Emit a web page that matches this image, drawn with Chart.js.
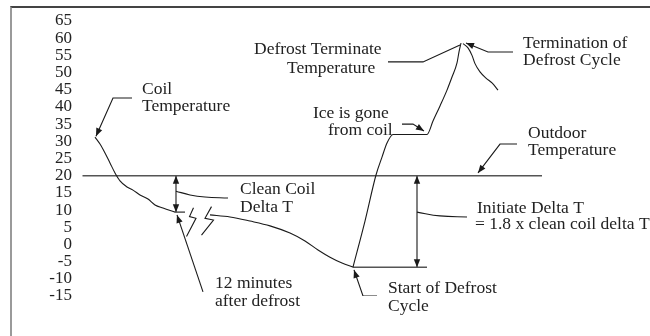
<!DOCTYPE html>
<html>
<head>
<meta charset="utf-8">
<script src="https://cdn.jsdelivr.net/npm/chart.js@4/dist/chart.umd.min.js"></script>
<style>
  body { margin: 0; background: #fff; }
  #wrap { position: relative; width: 650px; height: 336px; }
  #frame { position: absolute; left: 10px; top: 6px; right: 0; bottom: 0;
           border-top: 2px solid #444; border-left: 2px solid #9a9a9a; }
  canvas { position: absolute; left: 0; top: 0; }
</style>
</head>
<body>
<div id="wrap">
  <div id="frame"></div>
  <canvas id="defrostChart" width="650" height="336"></canvas>
</div>
<script>
// Temperatures in °F, time on a hidden axis (arbitrary units)
const yTicks = [65, 60, 55, 50, 45, 40, 35, 30, 25, 20, 15, 10, 5, 0, -5, -10, -15];

const outdoorTemp = 20;
const cleanCoilTemp = 9.4;
const startDefrostTemp = -6.6;

// coil temperature right after a defrost
const coilAfterX = [3, 4, 5, 6, 7, 8, 9.4, 10.6, 12, 13.6, 15, 16.6, 19];
const coilAfterY = [31.2, 29.2, 26.6, 23.7, 20.8, 18.5, 16.7, 15.8, 14.4, 13.2, 11.5, 10.6, 9.4];

// frost building up until the defrost starts
const coilFrostX = [26, 30, 34, 38, 42, 45, 47.6, 50, 52.4, 54.6];
const coilFrostY = [8.6, 8.0, 6.8, 5.4, 3.3, 1.0, -1.6, -3.7, -5.4, -6.6];

// defrost: rise, 32°F plateau while ice melts, up to terminate temp
const defrostX = [54.6, 57, 59.2, 60.4, 61.4, 62.6, 69.4, 70.6, 72, 73.4, 74.4, 75.4, 75.8, 76.2];
const defrostY = [-6.6, 6.8, 20.2, 25.4, 29.5, 32, 32, 35.9, 40.3, 44.9, 48.7, 52.8, 56, 58.6];

// after termination
const recoveryX = [76.6, 77.6, 78.4, 79, 80, 81.2, 82.4, 83.6];
const recoveryY = [58.4, 57.2, 55, 52.6, 50.2, 48.4, 47, 44.9];

// time-break marks
const break1X = [22.7, 21.9, 23.2, 21.3];
const break1Y = [10.7, 8.1, 7.6, 2.3];
const break2X = [26.3, 25, 26.7, 24.3];
const break2Y = [11.0, 7.6, 7.1, 2.7];

const outdoorLineX = [0.5, 92.4];
const startLineX = [54.6, 69.4];
const cleanLineX = [19, 21];
const cleanDeltaX = 19.2;
const initiateDeltaX = 67.4;

// leader lines for the notes
const leaders = [
  { x: [10.4, 6.6, 3.2], y: [42.6, 42.6, 31.5], arrow: true },
  { x: [19.2, 22, 25, 29.6], y: [15.5, 14.4, 13.8, 13.5], smooth: true },
  { x: [24.6, 19.4], y: [-13.8, 8.6], arrow: true },
  { x: [59.4, 56.6, 54.8], y: [-15, -15, -7.4], arrow: true },
  { x: [67.4, 72, 77.4], y: [9.4, 8.3, 8.0], smooth: true },
  { x: [64.4, 66.6, 68.8], y: [35.0, 35.0, 33.0], arrow: true },
  { x: [61.6, 68.6, 76], y: [53.1, 53.1, 58.0] },
  { x: [86.6, 81.6, 77.2], y: [56, 56, 58.6], arrow: true },
  { x: [87.4, 84, 79.6], y: [29.2, 29.2, 20.8], arrow: true }
];

const notes = [
  { text: 'Coil', x: 12.4, y: 45.2 },
  { text: 'Temperature', x: 12.4, y: 40.3 },
  { text: 'Defrost Terminate', x: 34.8, y: 56.6 },
  { text: 'Temperature', x: 41.4, y: 51.3 },
  { text: 'Termination of', x: 88.6, y: 58.6 },
  { text: 'Defrost Cycle', x: 88.6, y: 53.4 },
  { text: 'Ice is gone', x: 46.6, y: 38.2 },
  { text: 'from coil', x: 49.6, y: 33.3 },
  { text: 'Outdoor', x: 89.6, y: 32.4 },
  { text: 'Temperature', x: 89.6, y: 27.5 },
  { text: 'Clean Coil', x: 32, y: 16.1 },
  { text: 'Delta T', x: 32, y: 10.9 },
  { text: 'Initiate Delta T', x: 79.4, y: 10.6 },
  { text: '= 1.8 x clean coil delta T', x: 79, y: 5.7 },
  { text: '12 minutes', x: 27, y: -11.2 },
  { text: 'after defrost', x: 27, y: -16.5 },
  { text: 'Start of Defrost', x: 61.6, y: -12.7 },
  { text: 'Cycle', x: 61.6, y: -17.9 }
];

const pts = (xs, ys) => xs.map((x, i) => ({ x, y: ys[i] }));

function serie(data, extra) {
  return Object.assign({
    data,
    showLine: true,
    pointRadius: 0,
    borderColor: '#1a1a1a',
    borderWidth: 1.1,
    tension: 0,
    fill: false
  }, extra || {});
}

const datasets = [
  serie(pts(coilAfterX, coilAfterY), { cubicInterpolationMode: 'monotone' }),
  serie(pts(coilFrostX, coilFrostY), { cubicInterpolationMode: 'monotone' }),
  serie(pts(defrostX, defrostY), { cubicInterpolationMode: 'monotone' }),
  serie(pts(recoveryX, recoveryY), { cubicInterpolationMode: 'monotone' }),
  serie(pts(break1X, break1Y)),
  serie(pts(break2X, break2Y)),
  serie(pts(outdoorLineX, [outdoorTemp, outdoorTemp]), { borderColor: '#555', borderWidth: 1.5 }),
  serie(pts(startLineX, [startDefrostTemp, startDefrostTemp]), { borderColor: '#555', borderWidth: 1.5 }),
  serie(pts(cleanLineX, [cleanCoilTemp, cleanCoilTemp]), { borderColor: '#555', borderWidth: 1.5 }),
  serie(pts([cleanDeltaX, cleanDeltaX], [outdoorTemp, cleanCoilTemp]), { arrowStart: true, arrowEnd: true }),
  serie(pts([initiateDeltaX, initiateDeltaX], [outdoorTemp, startDefrostTemp]), { arrowStart: true, arrowEnd: true })
];

leaders.forEach(l => {
  datasets.push(serie(pts(l.x, l.y), { tension: l.smooth ? 0.4 : 0, arrowEnd: !!l.arrow }));
});

function drawArrow(ctx, x0, y0, x1, y1) {
  const ang = Math.atan2(y1 - y0, x1 - x0);
  const len = 8, half = 3.2;
  ctx.save();
  ctx.translate(x1, y1);
  ctx.rotate(ang);
  ctx.beginPath();
  ctx.moveTo(0, 0);
  ctx.lineTo(-len, -half);
  ctx.lineTo(-len, half);
  ctx.closePath();
  ctx.fillStyle = '#1a1a1a';
  ctx.fill();
  ctx.restore();
}

// arrowheads and the note texts
const notesPlugin = {
  id: 'notes',
  afterDatasetsDraw(chart) {
    const { ctx, scales: { x, y } } = chart;
    chart.data.datasets.forEach(ds => {
      const p = ds.data.map(d => [x.getPixelForValue(d.x), y.getPixelForValue(d.y)]);
      const n = p.length;
      if (ds.arrowEnd) drawArrow(ctx, p[n - 2][0], p[n - 2][1], p[n - 1][0], p[n - 1][1]);
      if (ds.arrowStart) drawArrow(ctx, p[1][0], p[1][1], p[0][0], p[0][1]);
    });
    ctx.save();
    ctx.font = '17.5px "Liberation Serif"';
    ctx.fillStyle = '#222';
    ctx.textAlign = 'left';
    ctx.textBaseline = 'middle';
    notes.forEach(t => ctx.fillText(t.text, x.getPixelForValue(t.x), y.getPixelForValue(t.y)));
    ctx.restore();
  }
};

new Chart(document.getElementById('defrostChart').getContext('2d'), {
  type: 'scatter',
  data: { datasets },
  options: {
    responsive: false,
    animation: false,
    devicePixelRatio: 1,
    layout: { padding: { top: 21, bottom: 40, left: 0, right: 0 } },
    plugins: {
      legend: { display: false },
      tooltip: { enabled: false }
    },
    scales: {
      x: { type: 'linear', min: 0, max: 114, display: false },
      y: {
        type: 'linear',
        min: -15,
        max: 65,
        afterBuildTicks: s => { s.ticks = yTicks.map(v => ({ value: v })); },
        afterFit: s => { s.width = 80; },
        grid: { display: false, drawTicks: false },
        border: { display: false },
        ticks: {
          autoSkip: false,
          padding: 8,
          color: '#222',
          font: { family: 'Liberation Serif', size: 17 }
        }
      }
    }
  },
  plugins: [notesPlugin]
});
</script>
</body>
</html>
